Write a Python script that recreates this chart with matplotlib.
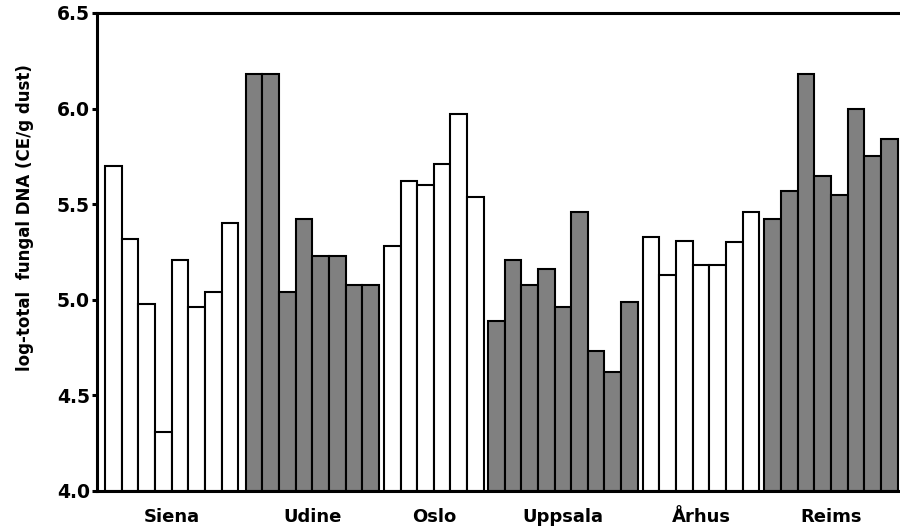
import numpy as np
import matplotlib
matplotlib.use("Agg")
import matplotlib.pyplot as plt

# log-total fungal DNA per house, grouped by city
cities = ["Siena", "Udine", "Oslo", "Uppsala", "Århus", "Reims"]

siena = [5.70, 5.32, 4.98, 4.31, 5.21, 4.96, 5.04, 5.40]
udine = [6.18, 6.18, 5.04, 5.42, 5.23, 5.23, 5.08, 5.08]
oslo = [5.28, 5.62, 5.60, 5.71, 5.97, 5.54]
uppsala = [4.89, 5.21, 5.08, 5.16, 4.96, 5.46, 4.73, 4.62, 4.99]
arhus = [5.33, 5.13, 5.31, 5.18, 5.18, 5.30, 5.46]
reims = [5.42, 5.57, 6.18, 5.65, 5.55, 6.00, 5.75, 5.84]

groups = [siena, udine, oslo, uppsala, arhus, reims]
fills = ["white", "#808080", "white", "#808080", "white", "#808080"]
gaps = [0.45, 0.3, 0.25, 0.3, 0.3]

yticks = [4.0, 4.5, 5.0, 5.5, 6.0, 6.5]

fig = plt.figure(figsize=(9, 5.26), dpi=100)
ax = fig.add_axes([96.7 / 900, 1 - 491 / 526, 1 - 96.7 / 900, 478 / 526])

start = 0.0
centers = []
for k, vals in enumerate(groups):
    x = start + np.arange(len(vals)) + 0.5
    ax.bar(x, np.array(vals) - 4.0, bottom=4.0, width=1.0,
           color=fills[k], edgecolor="black", linewidth=1.5)
    centers.append(start + len(vals) / 2)
    start += len(vals)
    if k < len(gaps):
        start += gaps[k]

ax.set_xlim(-0.5, 47.75)
ax.set_ylim(4.0, 6.5)

ax.set_yticks(yticks)
ax.set_yticklabels(["%.1f" % t for t in yticks], fontsize=13.5, fontweight="bold")
ax.tick_params(axis="y", direction="out", length=3.5, width=2.2, pad=1.5)

ax.set_xticks(centers)
ax.set_xticklabels(cities, fontsize=13, fontweight="bold")
ax.tick_params(axis="x", length=0, pad=12.5)

for s in ["left", "bottom", "top"]:
    ax.spines[s].set_linewidth(2.2)
ax.spines["right"].set_visible(False)

ax.set_ylabel("log-total  fungal DNA (CE/g dust)", fontsize=12, fontweight="bold")
ax.yaxis.set_label_coords(-0.078, 0.571)

fig.savefig("out.png", dpi=100)
